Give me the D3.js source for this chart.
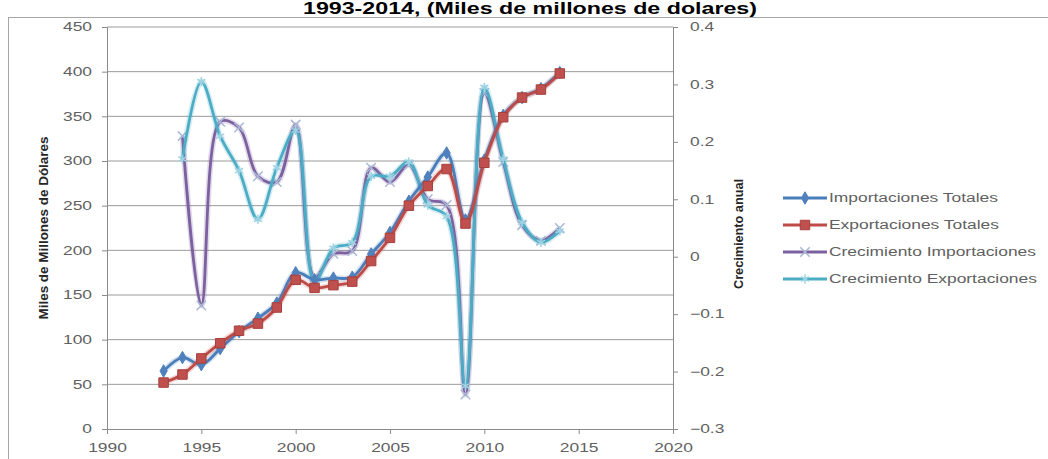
<!DOCTYPE html>
<html>
<head>
<meta charset="utf-8">
<script src="https://cdn.jsdelivr.net/npm/d3@7"></script>
<style>
body { margin: 0; background: #fff; }
text { font-family: "Liberation Sans", Arial, sans-serif; }
</style>
</head>
<body>
<div id="chart"></div>
<script>
// data
var years = [1993, 1994, 1995, 1996, 1997, 1998, 1999, 2000, 2001, 2002, 2003,
             2004, 2005, 2006, 2007, 2008, 2009, 2010, 2011, 2012, 2013, 2014];
var importaciones = [65, 80, 72, 90, 109, 124, 141, 175, 167, 169, 170,
                     196, 220, 255, 282, 309, 234, 301, 351, 371, 381, 399];
var exportaciones = [52, 61, 79, 96, 110, 118, 136, 167, 158, 161, 165,
                     188, 214, 250, 272, 291, 230, 298, 349, 371, 380, 398];
var growthYears = years.slice(1);
var crecImportaciones = [0.21, -0.085, 0.235, 0.225, 0.14, 0.13, 0.23, -0.035, 0.005, 0.01,
                         0.155, 0.13, 0.16, 0.10, 0.09, -0.24, 0.285, 0.165, 0.055, 0.028, 0.05];
var crecExportaciones = [0.17, 0.305, 0.21, 0.15, 0.065, 0.155, 0.22, -0.045, 0.015, 0.025,
                         0.14, 0.14, 0.165, 0.09, 0.07, -0.225, 0.295, 0.17, 0.06, 0.025, 0.045];
var leftTicks = [0, 50, 100, 150, 200, 250, 300, 350, 400, 450];
var rightTicks = [-0.3, -0.2, -0.1, 0, 0.1, 0.2, 0.3, 0.4];
var xTicks = [1990, 1995, 2000, 2005, 2010, 2015, 2020];
var titleText = "1993-2014, (Miles de millones de dolares)";
var seriesNames = ["Importaciones Totales", "Exportaciones Totales",
                   "Crecimiento Importaciones", "Crecimiento Exportaciones"];

var width = 1048, height = 459;
var margin = {top: 27, right: 375, bottom: 30, left: 107};
var SX = 1.45; // the picture is stretched sideways, so text is too

var svg = d3.select("#chart").append("svg")
  .attr("width", width)
  .attr("height", height);

function stretch(sel, k) {
  sel.each(function() {
    var w = this.getComputedTextLength();
    this.setAttribute("textLength", w * k);
    this.setAttribute("lengthAdjust", "spacingAndGlyphs");
  });
}

// outer chart frame
svg.append("rect")
  .attr("x", 8.5).attr("y", 17.5)
  .attr("width", 1100).attr("height", 500)
  .attr("fill", "none").attr("stroke", "#a6a6a6");

svg.append("text")
  .attr("x", 530).attr("y", 14)
  .attr("text-anchor", "middle")
  .attr("font-size", 16).attr("font-weight", "bold")
  .attr("fill", "#000")
  .attr("textLength", 454).attr("lengthAdjust", "spacingAndGlyphs")
  .text(titleText);

var x = d3.scaleLinear().domain([1990, 2020]).range([margin.left, width - margin.right]);
var y = d3.scaleLinear().domain([0, 450]).range([height - margin.bottom, margin.top]);
var y2 = d3.scaleLinear().domain([-0.3, 0.4]).range([height - margin.bottom, margin.top]);

// gridlines
svg.append("g").selectAll("line")
  .data(leftTicks.slice(1))
  .enter().append("line")
  .attr("x1", x(1990)).attr("x2", x(2020))
  .attr("y1", function(d) { return y(d); })
  .attr("y2", function(d) { return y(d); })
  .attr("stroke", "#9a9a9a").attr("stroke-width", 1);

var axisColor = "#8a8a8a", labelColor = "#616161";

function styleAxis(g) {
  g.selectAll("path, line").attr("stroke", axisColor);
  g.selectAll("text").attr("fill", labelColor).attr("font-size", 12)
    .attr("font-family", "'Liberation Sans', Arial, sans-serif");
  stretch(g.selectAll("text"), SX);
}

svg.append("g")
  .attr("transform", "translate(" + margin.left + ",0)")
  .call(d3.axisLeft(y).tickValues(leftTicks).tickSize(5).tickPadding(10).tickFormat(d3.format("d")))
  .call(styleAxis);

svg.append("g")
  .attr("transform", "translate(" + (width - margin.right) + ",0)")
  .call(d3.axisRight(y2).tickValues(rightTicks).tickSize(5).tickPadding(12)
    .tickFormat(function(d) { return d === 0 ? "0" : d3.format(".1f")(d); }))
  .call(styleAxis);

svg.append("g")
  .attr("transform", "translate(0," + (height - margin.bottom) + ")")
  .call(d3.axisBottom(x).tickValues(xTicks).tickSize(5).tickPadding(9).tickFormat(d3.format("d")))
  .call(styleAxis);

// axis titles
svg.append("text")
  .attr("transform", "translate(48,228) rotate(-90)")
  .attr("text-anchor", "middle")
  .attr("font-size", 12).attr("font-weight", "bold").attr("fill", "#262626")
  .attr("textLength", 183).attr("lengthAdjust", "spacingAndGlyphs")
  .text("Miles de Millones de Dólares");

svg.append("text")
  .attr("transform", "translate(743,234) rotate(-90)")
  .attr("text-anchor", "middle")
  .attr("font-size", 12).attr("font-weight", "bold").attr("fill", "#262626")
  .attr("textLength", 110).attr("lengthAdjust", "spacingAndGlyphs")
  .text("Crecimiento anual");

var curve = d3.curveCatmullRom.alpha(0.5);

var series = [
  {name: seriesNames[0], xs: years, vals: importaciones, scale: y, color: "#4A7EBB",
   symbol: d3.symbolDiamond, size: 45, fill: "#4F81BD", mark: "#4F81BD", stroke: false},
  {name: seriesNames[1], xs: years, vals: exportaciones, scale: y, color: "#BE4B48",
   symbol: d3.symbolSquare, size: 90, fill: "#C0504D", mark: "#A5403D", stroke: false},
  {name: seriesNames[2], xs: growthYears, vals: crecImportaciones, scale: y2, color: "#7D60A0",
   symbol: d3.symbolTimes, size: 60, fill: "none", mark: "#a9b8d6", stroke: true},
  {name: seriesNames[3], xs: growthYears, vals: crecExportaciones, scale: y2, color: "#4BACC6",
   symbol: d3.symbolAsterisk, size: 60, fill: "none", mark: "#9ed3e3", stroke: true}
];

// draw growth lines first, then the value lines on top
var drawOrder = [2, 3, 0, 1];

drawOrder.forEach(function(i) {
  var s = series[i];
  var pts = s.xs.map(function(yr, j) { return [yr, s.vals[j]]; });
  var line = d3.line()
    .x(function(d) { return x(d[0]); })
    .y(function(d) { return s.scale(d[1]); })
    .curve(curve);

  var g = svg.append("g");
  g.append("path")
    .attr("d", line(pts))
    .attr("fill", "none")
    .attr("stroke", s.color).attr("stroke-opacity", 0.22)
    .attr("stroke-width", 6);
  g.append("path")
    .attr("d", line(pts))
    .attr("fill", "none")
    .attr("stroke", s.color)
    .attr("stroke-width", 2.8)
    .attr("stroke-linejoin", "round");

  g.selectAll(".mk")
    .data(pts)
    .enter().append("path")
    .attr("class", "mk")
    .attr("transform", function(d) { return "translate(" + x(d[0]) + "," + s.scale(d[1]) + ")"; })
    .attr("d", d3.symbol().type(s.symbol).size(s.size))
    .attr("fill", s.stroke ? "none" : s.fill)
    .attr("stroke", s.mark)
    .attr("stroke-width", s.stroke ? 1.5 : 1);
});

// legend
var legend = svg.append("g").attr("transform", "translate(783,198)");
series.forEach(function(s, i) {
  var row = legend.append("g").attr("transform", "translate(0," + (i * 27) + ")");
  row.append("line")
    .attr("x1", 0).attr("x2", 44)
    .attr("stroke", s.color).attr("stroke-width", 3);
  row.append("path")
    .attr("transform", "translate(22,0)")
    .attr("d", d3.symbol().type(s.symbol).size(s.size))
    .attr("fill", s.stroke ? "none" : s.fill)
    .attr("stroke", s.mark)
    .attr("stroke-width", s.stroke ? 1.5 : 1);
  var t = row.append("text")
    .attr("x", 46).attr("y", 4)
    .attr("font-size", 12).attr("fill", labelColor)
    .text(s.name);
  stretch(t, SX);
});
</script>
</body>
</html>
